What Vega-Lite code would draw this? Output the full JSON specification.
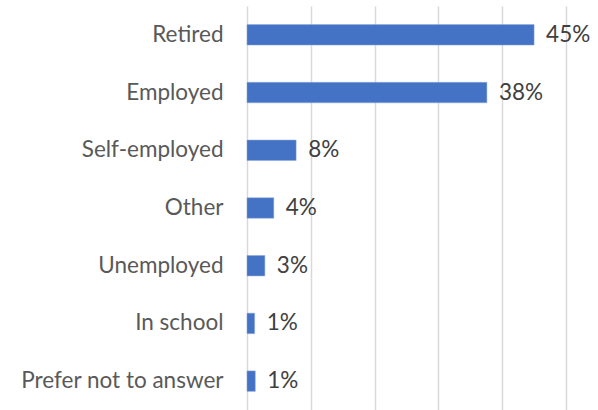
{
  "$schema": "https://vega.github.io/schema/vega-lite/v6.json",
  "autosize": "none",
  "width": 319,
  "height": 404,
  "padding": {"left": 247, "top": 6, "right": 32, "bottom": 0},
  "data": {"values": [
    {"status": "Retired", "share": 0.45},
    {"status": "Employed", "share": 0.376},
    {"status": "Self-employed", "share": 0.077},
    {"status": "Other", "share": 0.042},
    {"status": "Unemployed", "share": 0.028},
    {"status": "In school", "share": 0.012},
    {"status": "Prefer not to answer", "share": 0.013}
  ]},
  "config": {
    "view": {"stroke": null},
    "font": "Lato"
  },
  "encoding": {
    "y": {"field": "status", "type": "nominal", "sort": null,
      "scale": {"paddingInner": 0.645, "paddingOuter": 0.3225},
      "axis": {"title": null, "domain": false, "ticks": false, "labelPadding": 24, "labelLimit": 400,
        "labelFontSize": 22.5, "labelColor": "#595959", "labelFont": "Lato"}},
    "x": {"field": "share", "type": "quantitative",
      "scale": {"domain": [0, 0.5], "nice": false},
      "axis": {"title": null, "labels": false, "ticks": false, "domain": false,
        "values": [0, 0.1, 0.2, 0.3, 0.4, 0.5], "grid": true, "gridColor": "#d9d9d9", "gridWidth": 1.5}}
  },
  "layer": [
    {"mark": {"type": "bar", "color": "#4472C4", "stroke": "#8faadc", "strokeWidth": 0.5}},
    {"mark": {"type": "text", "align": "left", "baseline": "middle", "dx": 12, "fontSize": 22.5, "color": "#404040", "font": "Lato"},
      "encoding": {"text": {"field": "share", "type": "quantitative", "format": ".0%"}}}
  ]
}
